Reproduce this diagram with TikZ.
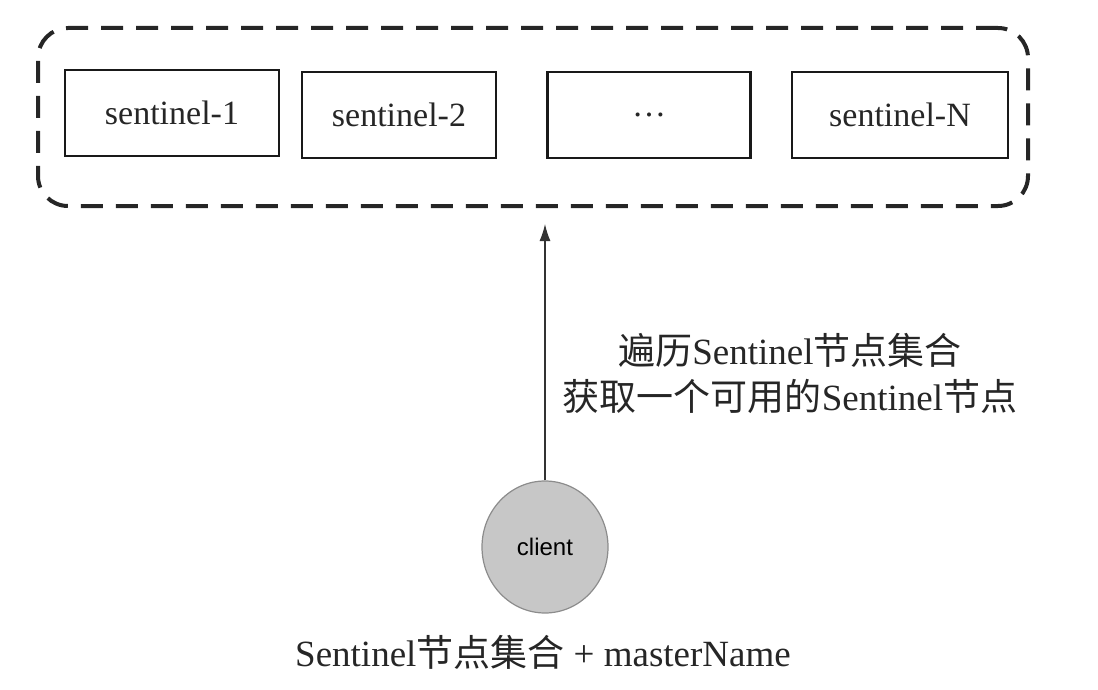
\documentclass[tikz,border=0pt]{standalone}
\usepackage{fontspec}
\setmainfont{Liberation Serif}
\setsansfont{Liberation Sans}
\newfontfamily\cjk{Noto Sans CJK SC}
\usetikzlibrary{arrows.meta,shapes.geometric}
\begin{document}
\begin{tikzpicture}[x=1pt,y=-1pt,
  sbox/.style={draw=black!90, line width=2.8pt, rectangle, minimum height=86pt,
    font=\fontsize{34}{36}\selectfont, text=black!85},
  group/.style={draw=black!85, line width=4pt, dash pattern=on 22pt off 13pt, rounded corners=30pt,
    minimum width=990pt, minimum height=178pt},
  clientnode/.style={ellipse, draw=black!45, line width=1.2pt, fill=black!22,
    minimum width=126pt, minimum height=132pt, font=\sffamily\fontsize{24}{28}\selectfont},
  lbl/.style={font=\fontsize{37}{46}\selectfont, text=black!85, align=center},
  conn/.style={line width=1.2pt, draw=black!80, -{Latex[length=17pt,width=11pt]}}
]
\useasboundingbox (0,0) rectangle (1098,690);
\node[group] (grp) at (533,117) {};
\node[sbox, minimum width=214pt] (s1) at (172,113) {sentinel-1};
\node[sbox, minimum width=194pt] (s2) at (399,115) {sentinel-2};
\node[sbox, minimum width=203pt] (s3) at (649,115) {\ldots};
\node[sbox, minimum width=216pt] (sN) at (900,115) {sentinel-N};
\node[clientnode] (cl) at (545,547) {client};
\node[lbl] (desc) at (790,373) {{\cjk 遍历}Sentinel{\cjk 节点集合}\\{\cjk 获取一个可用的}Sentinel{\cjk 节点}};
\node[lbl] (bottom) at (543,652) {Sentinel{\cjk 节点集合} + masterName};
\coordinate (tip) at (545,224);
\draw[conn] (cl) -- (tip);
\end{tikzpicture}
\end{document}
